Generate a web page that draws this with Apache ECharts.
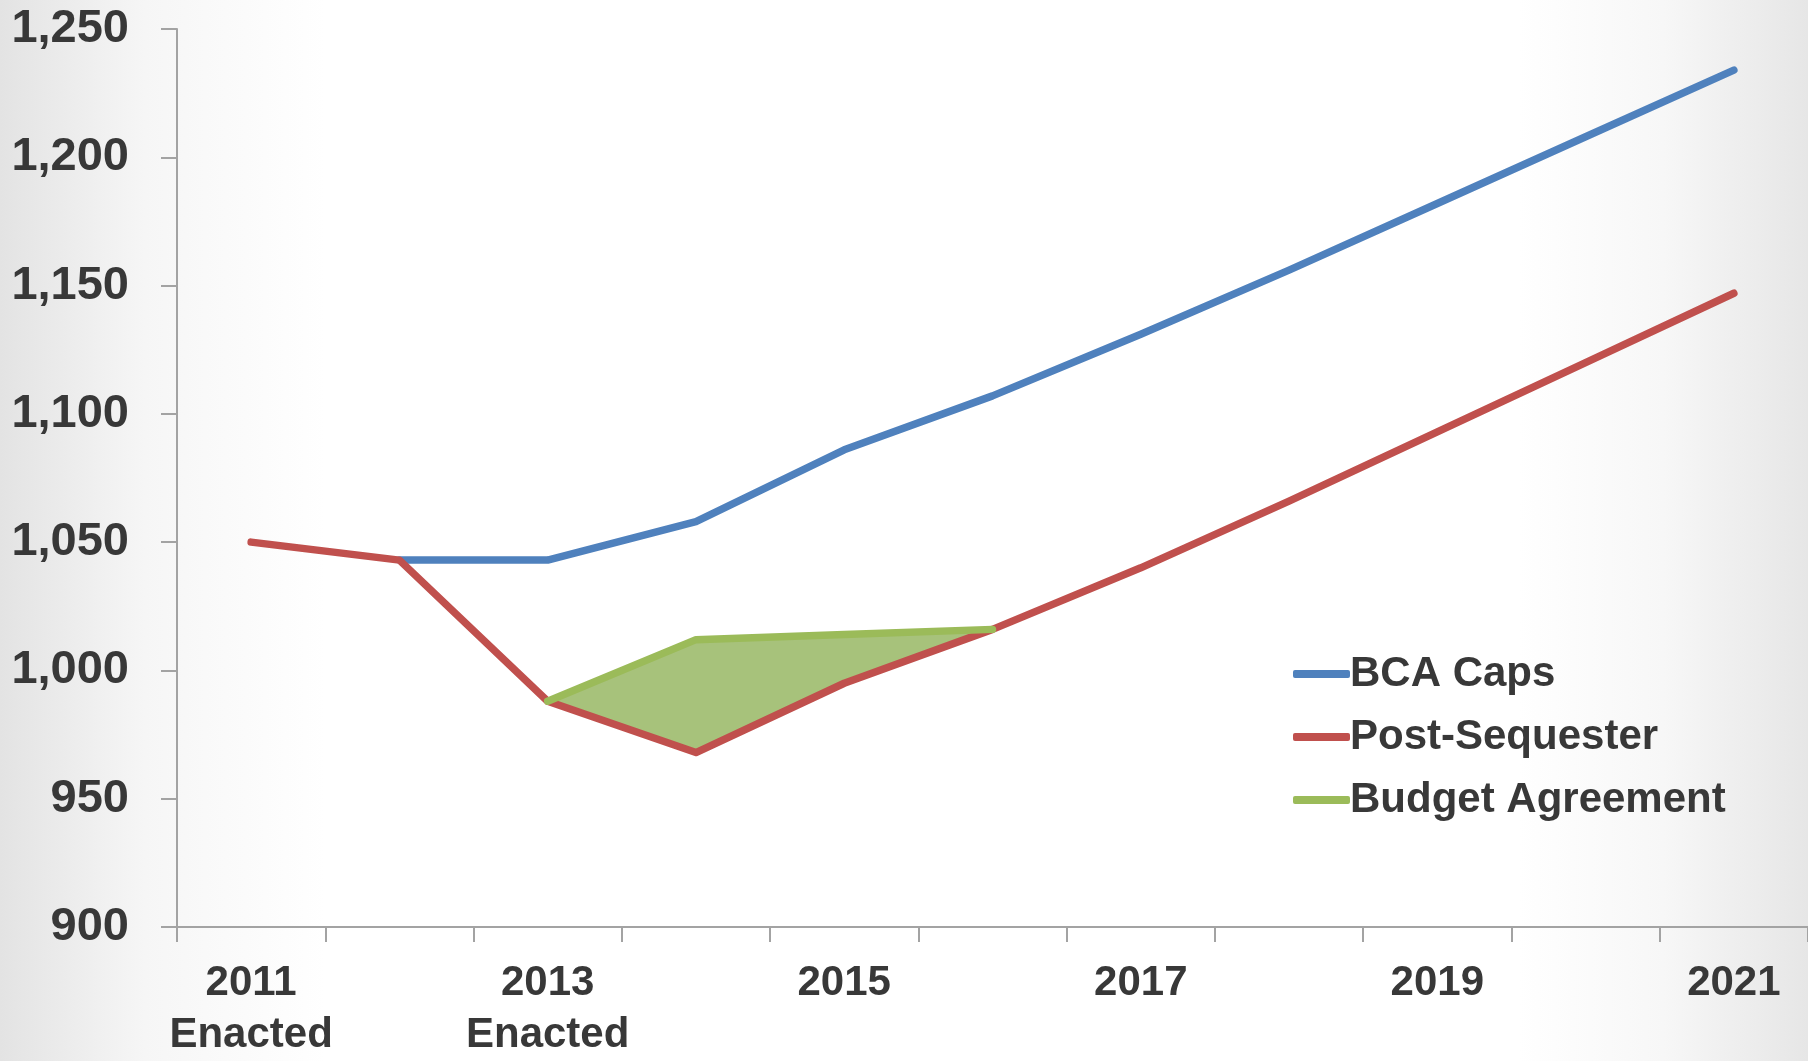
<!DOCTYPE html>
<html>
<head>
<meta charset="utf-8">
<script src="https://cdn.jsdelivr.net/npm/echarts@6/dist/echarts.min.js"></script>
<style>
  html, body { margin: 0; padding: 0; }
  #chart {
    width: 1808px; height: 1061px;
    background: linear-gradient(to right, #e3e3e3 0%, #f6f6f6 8%, #ffffff 18%, #ffffff 84%, #f7f7f7 92%, #e6e6e6 100%);
  }
</style>
</head>
<body>
<div id="chart"></div>
<script>
// Discretionary caps, billions of dollars
const categories = ['2011\nEnacted', '2012', '2013\nEnacted', '2014', '2015', '2016', '2017', '2018', '2019', '2020', '2021'];
const bcaCaps = [null, 1043, 1043, 1058, 1086, 1107, 1131, 1156, 1182, 1208, 1234];
const postSequester = [1050, 1043, 988, 968, 995, 1016, 1040, 1066, 1093, 1120, 1147];
const budgetAgreement = [null, null, 988, 1012, 1014, 1016, null, null, null, null, null];
const yTicks = { min: 900, max: 1250, step: 50 };

// Band between the agreement line and the post-sequester line
const bandBase = budgetAgreement.map((v, i) => (v == null ? null : postSequester[i]));
const bandHeight = budgetAgreement.map((v, i) => (v == null ? null : v - postSequester[i]));

const BLUE = '#4f81bd', RED = '#c0504d', GREEN = '#9bbb59';
const FONT = 'Liberation Sans';
const TEXT = '#383838';
const AXIS = '#a3a3a3';
const LINE_W = 7.5;

const chart = echarts.init(document.getElementById('chart'), null, { renderer: 'canvas' });
chart.setOption({
  animation: false,
  backgroundColor: 'transparent',
  grid: { left: 177, right: 0, top: 29, bottom: 129 },
  legend: {
    orient: 'vertical',
    left: 1288, top: 644,
    icon: 'roundRect',
    itemWidth: 57, itemHeight: 8,
    itemGap: 13,
    data: ['BCA Caps', 'Post-Sequester', 'Budget Agreement'],
    textStyle: { fontFamily: FONT, fontWeight: 'bold', fontSize: 42, color: TEXT, lineHeight: 50, padding: [0, 0, 0, -5] }
  },
  xAxis: {
    type: 'category',
    data: categories,
    boundaryGap: true,
    axisLine: { show: true, lineStyle: { color: AXIS, width: 2 } },
    axisTick: { show: true, interval: 0, length: 15, lineStyle: { color: AXIS, width: 2 } },
    axisLabel: {
      interval: 1,
      margin: 30,
      fontFamily: FONT, fontWeight: 'bold', fontSize: 42, color: TEXT,
      lineHeight: 52
    },
    splitLine: { show: false }
  },
  yAxis: {
    type: 'value',
    min: yTicks.min, max: yTicks.max, interval: yTicks.step,
    axisLine: { show: true, lineStyle: { color: AXIS, width: 2 } },
    axisTick: { show: true, length: 16, lineStyle: { color: AXIS, width: 2 } },
    axisLabel: {
      margin: 48,
      fontFamily: FONT, fontWeight: 'bold', fontSize: 47, color: TEXT,
      formatter: v => v.toLocaleString('en-US')
    },
    splitLine: { show: false }
  },
  series: [
    {
      name: 'band-base', type: 'line', stack: 'band', data: bandBase,
      symbol: 'none', lineStyle: { opacity: 0 }, silent: true, z: 1
    },
    {
      name: 'band', type: 'line', stack: 'band', data: bandHeight,
      symbol: 'none', lineStyle: { opacity: 0 },
      areaStyle: { color: '#a7c27b', opacity: 1 }, silent: true, z: 1
    },
    {
      name: 'BCA Caps', type: 'line', data: bcaCaps,
      symbol: 'none', color: BLUE,
      lineStyle: { color: BLUE, width: LINE_W, cap: 'round', join: 'round' }, z: 3
    },
    {
      name: 'Post-Sequester', type: 'line', data: postSequester,
      symbol: 'none', color: RED,
      lineStyle: { color: RED, width: LINE_W, cap: 'round', join: 'round' }, z: 3
    },
    {
      name: 'Budget Agreement', type: 'line', data: budgetAgreement,
      symbol: 'none', color: GREEN,
      lineStyle: { color: GREEN, width: LINE_W, cap: 'round', join: 'round' }, z: 4
    }
  ]
});
</script>
</body>
</html>
